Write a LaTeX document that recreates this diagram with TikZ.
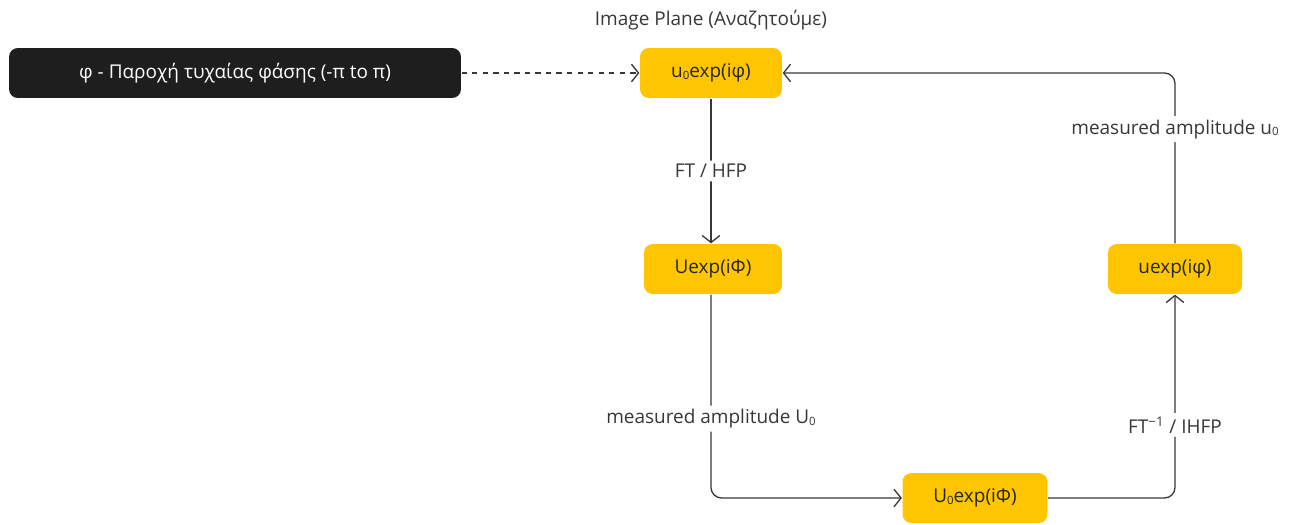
\documentclass[tikz,border=0pt]{standalone}
\usepackage{fontspec}
\setmainfont{Open Sans}
\usetikzlibrary{arrows.meta,positioning}

\definecolor{boxyellow}{HTML}{FFC501}
\definecolor{boxblack}{HTML}{1E1E1E}
\definecolor{linegray}{HTML}{383838}
\newcommand{\lowzero}{\raisebox{-0.15ex}{\fontsize{6.5}{7}\selectfont 0}}

\begin{document}
\begin{tikzpicture}[x=0.02cm,y=-0.02cm,line width=0.75pt,
  font=\fontsize{10.8}{13}\selectfont,
  stage/.style={fill=boxyellow,rounded corners=5pt,minimum height=1cm,text=black!85},
  flow/.style={draw=linegray,-{Straight Barb[length=4pt,width=10pt]},rounded corners=6pt},
  lbl/.style={fill=white,text=linegray,inner sep=2pt}]
  \useasboundingbox (0,0) rectangle (1298,524);

  % boxes
  \node[fill=boxblack,text=white,rounded corners=5pt,minimum width=9.04cm,minimum height=1cm] (phase) at (235,73) {φ - Παροχή τυχαίας φάσης (-π to π)};
  \node[stage,minimum width=2.84cm] (img) at (711,73) {u\lowzero exp(iφ)};
  \node[text=linegray] (imglbl) at (711,20) {Image Plane (Αναζητούμε)};
  \node[stage,minimum width=2.76cm] (four) at (713,269) {Uexp(iΦ)};
  \node[stage,minimum width=2.9cm] (meas) at (975,498) {U\lowzero exp(iΦ)};
  \node[stage,minimum width=2.68cm] (back) at (1175,269) {uexp(iφ)};

  % connectors
  \draw[flow,dashed] (phase) -- (img);
  \draw[flow] (img.south -| 711,0) -- node[lbl] {FT / HFP} (four.north -| 711,0);
  \draw[flow] (four.south -| 711,0) -- node[lbl,pos=0.61] {measured amplitude U\lowzero} (711,498) -- (meas.west);
  \draw[flow] (meas.east) -- (1175,498) -- node[lbl,pos=0.36] {FT\textsuperscript{−1} / IHFP} (back.south);
  \draw[flow] (back.north) -- node[lbl,pos=0.67] {measured amplitude u\lowzero} (1175,73) -- (img.east);
\end{tikzpicture}
\end{document}
